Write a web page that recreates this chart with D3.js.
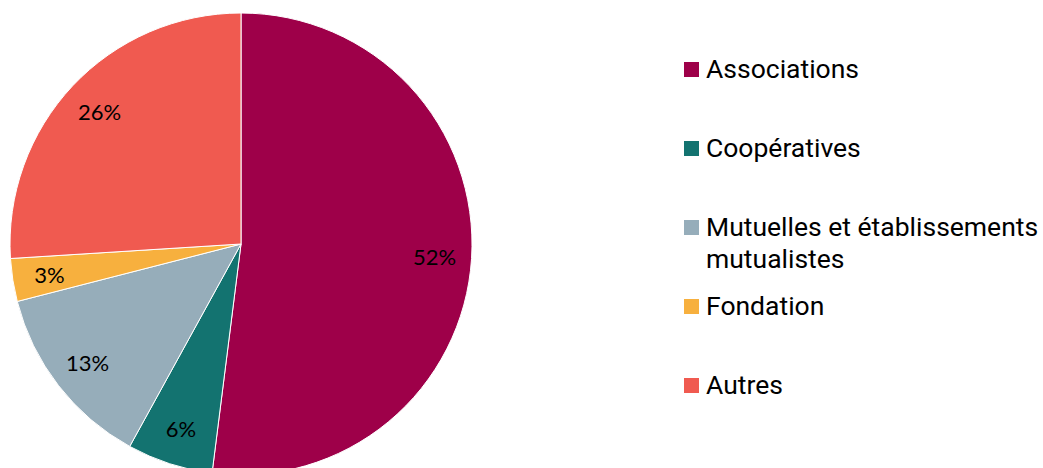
<!DOCTYPE html>
<html>
<head>
<meta charset="utf-8">
<script src="https://cdn.jsdelivr.net/npm/d3@7"></script>
<style>
  body { margin: 0; background: #fff; }
</style>
</head>
<body>
<script>
// data
var CATEGORIES = ["Associations", "Coopératives", "Mutuelles et établissements mutualistes", "Fondation", "Autres"];
var VALUES = [52, 6, 13, 3, 26];
var LEGEND_LINES = [["Associations"], ["Coopératives"], ["Mutuelles et établissements", "mutualistes"], ["Fondation"], ["Autres"]];
var COLORS = ["#9e0049", "#137370", "#96adba", "#f7b03e", "#f05a50"];

var W = 1043, H = 468;
var CX = 241, CY = 244, R = 231;

var svg = d3.select("body").append("svg")
    .attr("width", W)
    .attr("height", H);

var color = d3.scaleOrdinal().domain(CATEGORIES).range(COLORS);

var pie = d3.pie().sort(null).value(function (d, i) { return VALUES[i]; });
var arcs = pie(CATEGORIES);

var arc = d3.arc().innerRadius(0).outerRadius(R);
var labelArc = d3.arc().innerRadius(R * 0.84).outerRadius(R * 0.84);

var g = svg.append("g").attr("transform", "translate(" + CX + "," + CY + ")");

g.selectAll("path.slice")
    .data(arcs)
    .enter().append("path")
    .attr("class", "slice")
    .attr("d", arc)
    .attr("fill", function (d) { return color(d.data); })
    .attr("stroke", "#fff")
    .attr("stroke-width", 1);

g.selectAll("text.lbl")
    .data(arcs)
    .enter().append("text")
    .attr("class", "lbl")
    .attr("transform", function (d) { return "translate(" + labelArc.centroid(d) + ")"; })
    .attr("text-anchor", "middle")
    .attr("dy", "0.38em")
    .style("font-family", "Lato, 'Open Sans', sans-serif")
    .style("font-size", "22px")
    .style("fill", "#000")
    .text(function (d, i) { return VALUES[i] + "%"; });

// legend
var ROW_Y = [69, 148, 227, 306, 385];
var legend = svg.append("g").attr("class", "legend");
var items = legend.selectAll("g")
    .data(CATEGORIES)
    .enter().append("g")
    .attr("transform", function (d, i) { return "translate(684," + ROW_Y[i] + ")"; });

items.append("rect")
    .attr("x", 0).attr("y", -7)
    .attr("width", 15).attr("height", 15)
    .attr("fill", function (d) { return color(d); });

items.append("text")
    .attr("x", 22)
    .attr("y", 0)
    .style("font-family", "Roboto, sans-serif")
    .style("font-size", "26.5px")
    .style("fill", "#000")
    .selectAll("tspan")
    .data(function (d, i) { return LEGEND_LINES[i]; })
    .enter().append("tspan")
    .attr("x", 22)
    .attr("dy", function (d, j) { return j === 0 ? "0.35em" : "32px"; })
    .text(function (d) { return d; });
</script>
</body>
</html>
